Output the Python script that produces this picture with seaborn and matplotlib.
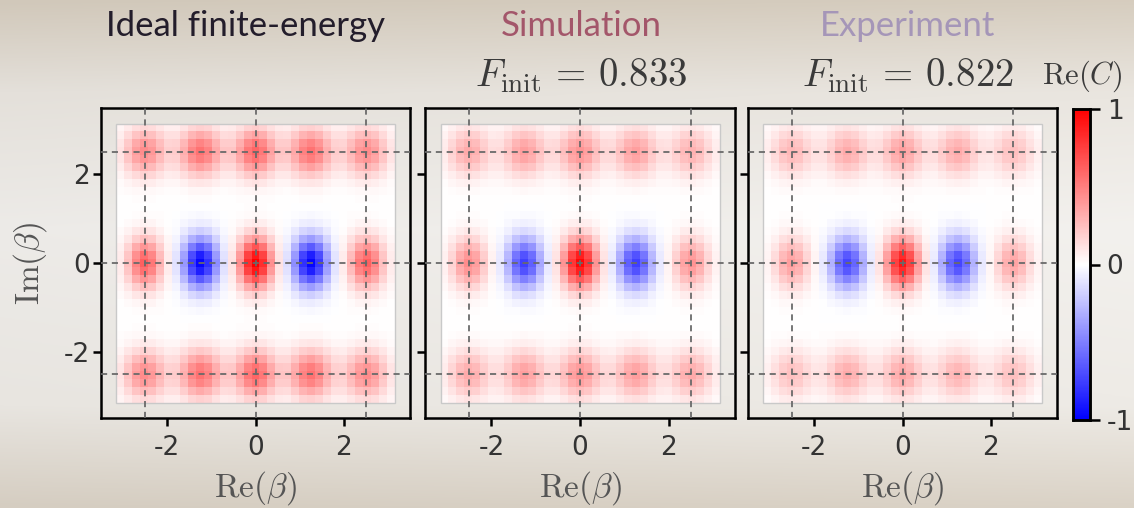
import numpy as np
import pandas as pd
import matplotlib
matplotlib.use("Agg")
import matplotlib.pyplot as plt
import seaborn as sns
from matplotlib.patches import Rectangle

# ---------------- data ----------------
# positions of the characteristic-function peaks (units of beta)
peak_x = [-2.5, -1.25, 0.0, 1.25, 2.5]
peak_y = [2.5, 0.0, -2.5]

# peak amplitudes of Re(C); rows = top / middle / bottom
amp_ideal = [[0.45, 0.55, 0.60, 0.55, 0.45],
             [0.62, -0.97, 1.00, -0.97, 0.62],
             [0.45, 0.55, 0.60, 0.55, 0.45]]
amp_sim = [[0.33, 0.38, 0.42, 0.38, 0.30],
           [0.45, -0.75, 0.97, -0.75, 0.42],
           [0.33, 0.38, 0.42, 0.38, 0.33]]
amp_exp = [[0.28, 0.33, 0.38, 0.33, 0.25],
           [0.38, -0.72, 0.92, -0.72, 0.36],
           [0.25, 0.33, 0.35, 0.30, 0.25]]

# peak widths (x, y) for middle row and outer rows
width_mid = (0.28, 0.40)
width_out = (0.34, 0.38)

panel_titles = ["Ideal finite-energy", "Simulation", "Experiment"]
title_colors = ["#231d2b", "#a3566a", "#a596b8"]
title_centers_px = [246, 581, 908]
fidelities = [None, "0.833", "0.822"]
tick_values = [-2, 0, 2]
lattice_lines = [-2.5, 0.0, 2.5]
cbar_ticks = [-1, 0, 1]
axis_limit = 3.5
grid_extent = 3.15
n_cells = 35

# ---------------- build grids from peak table ----------------
step = 2 * grid_extent / n_cells
centers = -grid_extent + step * (np.arange(n_cells) + 0.5)
X, Y = np.meshgrid(centers, centers[::-1])


def build_grid(amps):
    Z = np.zeros_like(X)
    for r, py in enumerate(peak_y):
        sx, sy = width_mid if py == 0.0 else width_out
        for c, px_ in enumerate(peak_x):
            Z += amps[r][c] * np.exp(-((X - px_) ** 2) / (2 * sx ** 2)
                                     - ((Y - py) ** 2) / (2 * sy ** 2))
    return pd.DataFrame(Z, index=np.round(centers[::-1], 3),
                        columns=np.round(centers, 3))


grids = [build_grid(a) for a in (amp_ideal, amp_sim, amp_exp)]


def to_ix(b):
    return (b + grid_extent) / step


def to_iy(b):
    return (grid_extent - b) / step


# ---------------- styling ----------------
sns.set_theme(style="ticks")
plt.rcParams["font.family"] = ["DejaVu Sans"]
plt.rcParams["mathtext.fontset"] = "cm"
plt.rcParams["axes.unicode_minus"] = False

W, H = 1134, 508
fig = plt.figure(figsize=(W / 100, H / 100), dpi=100)

# background gradient
bg = fig.add_axes([0, 0, 1, 1], zorder=-10)
yy = np.linspace(0, 1, 200)
stops = [0.0, 0.18, 0.45, 0.8, 1.0]
cols = np.array([[209, 200, 186], [228, 224, 218], [237, 235, 232],
                 [232, 229, 224], [213, 205, 193]]) / 255.0
grad = np.stack([np.interp(yy, stops, cols[:, k]) for k in range(3)], axis=-1)
xx = np.linspace(0, 1, 300)
light = 1.0 + 0.025 * xx  # slightly lighter on the right
img = np.clip(grad[:, None, :] * light[None, :, None], 0, 1)
bg.imshow(img, aspect="auto", extent=[0, 1, 0, 1], origin="upper")
bg.axis("off")


def px(x0, y0, w, h):
    return [x0 / W, 1 - (y0 + h) / H, w / W, h / H]


panel_boxes = [px(101, 108, 309, 310), px(425, 108, 310, 310), px(748, 108, 309, 310)]
cax = fig.add_axes(px(1073, 109, 17, 311))

tick_color = "#333333"
label_color = "#555555"
math_color = "#3a3a3a"

for k, (grid, box) in enumerate(zip(grids, panel_boxes)):
    ax = fig.add_axes(box)
    ax.set_facecolor("none")
    last = k == 2
    sns.heatmap(grid, ax=ax, cmap="bwr", vmin=-1, vmax=1,
                cbar=last, cbar_ax=cax if last else None,
                xticklabels=False, yticklabels=False, square=False)
    ax.set_xlim(to_ix(-axis_limit), to_ix(axis_limit))
    ax.set_ylim(to_iy(-axis_limit), to_iy(axis_limit))
    for s in ax.spines.values():
        s.set_visible(True)
        s.set_color("black")
        s.set_linewidth(1.8)
    ax.add_patch(Rectangle((0, 0), n_cells, n_cells, fill=False,
                           ec="#c9c9c9", lw=1.0, zorder=3))
    for g in lattice_lines:
        ax.axvline(to_ix(g), color="#6a6a6a", ls=(0, (3.4, 2.6)), lw=1.3, zorder=4)
        ax.axhline(to_iy(g), color="#6a6a6a", ls=(0, (3.4, 2.6)), lw=1.3, zorder=4)
    ax.set_xticks([to_ix(t) for t in tick_values])
    ax.set_xticklabels([str(t) for t in tick_values])
    ax.set_yticks([to_iy(t) for t in tick_values])
    if k == 0:
        ax.set_yticklabels([str(t) for t in tick_values])
        ax.set_ylabel(r"$\mathrm{Im}(\beta)$", fontsize=24, color=label_color,
                      va="center")
        ax.yaxis.set_label_coords((30 - 101) / 309, 0.5)
    else:
        ax.set_yticklabels([])
    ax.tick_params(axis="both", direction="out", length=6, width=1.8,
                   colors="black", labelcolor=tick_color, labelsize=19,
                   bottom=True, left=True, top=False, right=False)
    ax.tick_params(axis="x", pad=6)
    ax.tick_params(axis="y", pad=2)
    ax.set_xlabel(r"$\mathrm{Re}(\beta)$", fontsize=24, color=label_color,
                  va="center")
    ax.xaxis.set_label_coords(0.5, (418 - 488) / 310)

    cx = title_centers_px[k] / W
    fig.text(cx, 1 - 26 / H, panel_titles[k], ha="center", va="center",
             fontsize=25, color=title_colors[k], family=["Lato", "DejaVu Sans"])
    if fidelities[k] is not None:
        fig.text(cx, 1 - 76 / H, r"$F_\mathrm{init}\,=\,%s$" % fidelities[k],
                 ha="center", va="center", fontsize=28, color=math_color)

# colorbar
cax.set_yticks(cbar_ticks)
cax.set_yticklabels([str(t) for t in cbar_ticks])
cax.tick_params(axis="y", direction="out", length=7, width=1.8, colors="black",
                labelcolor=tick_color, labelsize=19, right=True, left=False, pad=5)
for s in cax.spines.values():
    s.set_visible(True)
    s.set_color("black")
    s.set_linewidth(1.8)
fig.text(1082 / W, 1 - 76 / H, r"$\mathrm{Re}(C)$", ha="center", va="center",
         fontsize=22, color=math_color)

fig.savefig("out.png", dpi=100)
